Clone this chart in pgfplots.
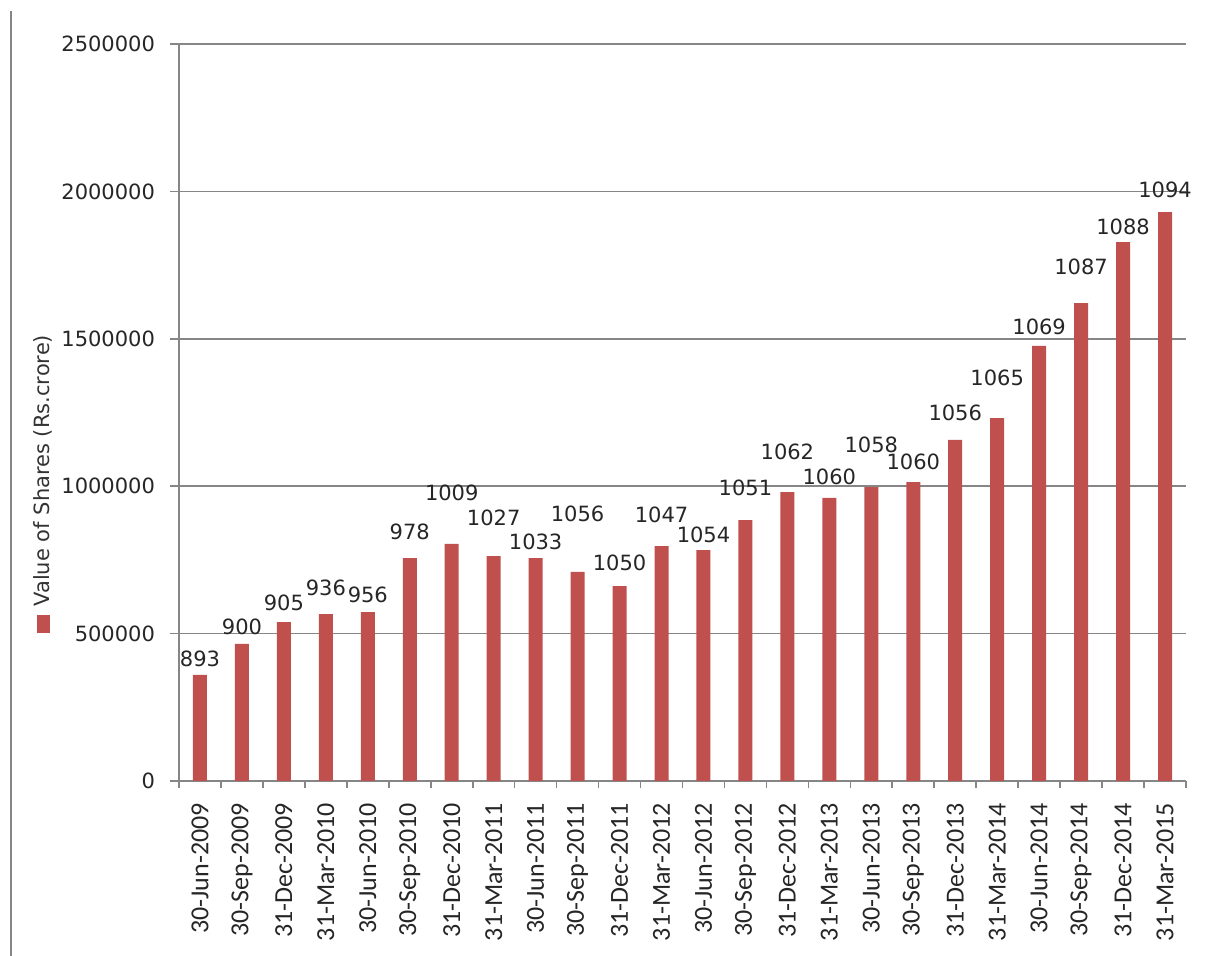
\documentclass[border=0pt]{standalone}
\usepackage{pgfplots}
\pgfplotsset{compat=1.18}
\usepackage{pgfplotstable}
\usepackage{fontspec}
\setmainfont{DejaVu Sans}
\newfontfamily\carlito{Carlito}

\definecolor{barred}{HTML}{C0504D}
\definecolor{axgray}{HTML}{868686}

% x: quarter index, val: value of shares, lab: count shown above bar, ly: label height
\pgfplotstableread{
x  val     lab  ly
0  360000  893  414000
1  465000  900  522000
2  539000  905  604000
3  566000  936  655000
4  573000  956  631000
5  756000  978  845000
6  804000  1009 977000
7  763000  1027 892000
8  756000  1033 811000
9  709000  1056 906000
10 661000  1050 740000
11 797000  1047 902000
12 783000  1054 834000
13 885000  1051 994000
14 980000  1062 1116000
15 960000  1060 1031000
16 997000  1058 1140000
17 1014000 1060 1082000
18 1157000 1056 1248000
19 1231000 1065 1367000
20 1476000 1069 1540000
21 1621000 1087 1744000
22 1828000 1088 1879000
23 1930000 1094 2005000
}\shares

\begin{document}
\begin{tikzpicture}
\useasboundingbox (0,0) rectangle (603pt,478pt);
\draw[axgray, line width=1pt] (5.5pt,0) -- (5.5pt,472.5pt);
\begin{axis}[
    at={(89.5pt,87.5pt)}, anchor=south west,
    scale only axis,
    width=503.5pt, height=368.5pt,
    xmin=-0.5, xmax=23.5,
    ymin=0, ymax=2500000,
    axis x line*=bottom, axis y line*=left,
    axis line style={axgray, line width=0.8pt},
    tick align=outside,
    xtick={0,...,23},
    xticklabels={30-Jun-2009,30-Sep-2009,31-Dec-2009,31-Mar-2010,30-Jun-2010,30-Sep-2010,31-Dec-2010,31-Mar-2011,30-Jun-2011,30-Sep-2011,31-Dec-2011,31-Mar-2012,30-Jun-2012,30-Sep-2012,31-Dec-2012,31-Mar-2013,30-Jun-2013,30-Sep-2013,31-Dec-2013,31-Mar-2014,30-Jun-2014,30-Sep-2014,31-Dec-2014,31-Mar-2015},
    major x tick style={draw=none},
    minor xtick={-0.5,0.5,...,23.5},
    minor x tick style={axgray, line width=0.8pt},
    minor tick length=3.5pt,
    ytick={0,500000,...,2500000},
    major tick length=4.5pt,
    y tick style={axgray, line width=0.8pt},
    scaled y ticks=false,
    ymajorgrids,
    grid style={axgray, line width=0.8pt},
    yticklabel style={/pgf/number format/fixed, /pgf/number format/precision=0,
        /pgf/number format/1000 sep={}, /pgf/number format/assume math mode=true,
        font=\fontsize{10.5}{12}\selectfont, text=black!85, xshift=-4pt},
    xticklabel style={yshift=-3pt, rotate=90, anchor=east, font=\carlito\fontsize{13}{15}\selectfont, text=black!85},
    clip=false,
]
\addplot[ybar, bar width=7pt, fill=barred, draw=none] table[x=x, y=val] {\shares};
\addplot[draw=none, mark=none, nodes near coords, point meta=explicit symbolic,
    nodes near coords style={anchor=center, font=\fontsize{10.5}{12}\selectfont, text=black!85}]
    table[x=x, y=ly, meta=lab] {\shares};
\end{axis}
\node[rotate=90, anchor=west, inner sep=0pt, font=\fontsize{10.5}{12}\selectfont, text=black!80]
    at (21.5pt,161.5pt) {{\color{barred}\rule{9pt}{6.5pt}}\hspace{4pt}Value of Shares (Rs.crore)};
\end{tikzpicture}
\end{document}
